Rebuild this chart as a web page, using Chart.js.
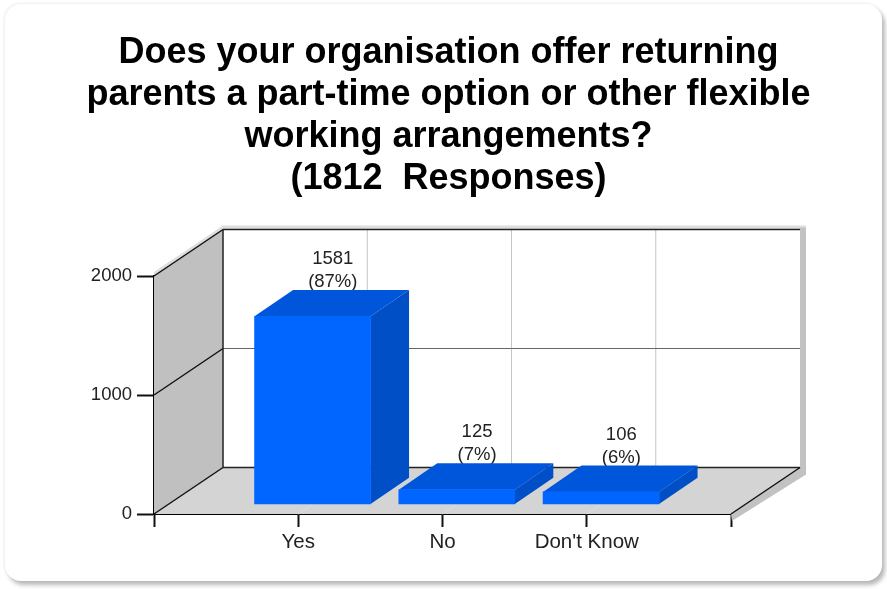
<!DOCTYPE html>
<html>
<head>
<meta charset="utf-8">
<style>
html,body{margin:0;padding:0;background:#fff;width:887px;height:589px;overflow:hidden}
#card{position:absolute;left:5px;top:4px;width:877px;height:577px;border-radius:16px;background:#fff;box-shadow:3px 4px 4px #b8b8b8,-1px -1px 3px #eee}
#c{position:absolute;left:10px;top:0;filter:blur(0.3px)}
</style>
<script src="https://cdn.jsdelivr.net/npm/chart.js@4/dist/chart.umd.min.js"></script>
</head>
<body>
<div id="card"></div>
<canvas id="c" width="877" height="589"></canvas>
<script>
const titleLines = ['Does your organisation offer returning','parents a part-time option or other flexible','working arrangements?','(1812  Responses)'];
const categories = ['', 'Yes', 'No', "Don't Know", ''];
const responses = [null, 1581, 125, 106, null];
const shares = ['', '(87%)', '(7%)', '(6%)', ''];
const yTicks = [0, 1000, 2000];

const WALL_DX = 69, WALL_DY = -46.5;
const BAR_SHIFT_X = 14.3, BAR_SHIFT_Y = -9.5;
const BAR_DX = 38.5, BAR_DY = -26.3;

function poly(ctx, pts, fill, stroke, lw){
  ctx.beginPath();
  pts.forEach((p,i)=> i ? ctx.lineTo(p[0],p[1]) : ctx.moveTo(p[0],p[1]));
  ctx.closePath();
  if(fill){ctx.fillStyle=fill;ctx.fill();}
  if(stroke){ctx.strokeStyle=stroke;ctx.lineWidth=lw||1;ctx.stroke();}
}
function line(ctx,x1,y1,x2,y2,color,lw){
  ctx.beginPath();ctx.moveTo(x1,y1);ctx.lineTo(x2,y2);ctx.strokeStyle=color;ctx.lineWidth=lw||1;ctx.stroke();
}

const box3d = {
  id:'box3d',
  beforeDatasetsDraw(chart){
    const ctx=chart.ctx, xs=chart.scales.x, ys=chart.scales.y;
    const L=xs.left, R=xs.right, T=ys.top, B=ys.bottom;
    ctx.save();
    // soft shadows round the box
    poly(ctx,[[L,T-4],[L+WALL_DX,T+WALL_DY-4],[R+WALL_DX+6,T+WALL_DY-4],[R+WALL_DX+6,T+WALL_DY+2],[L,T+2]],'#dedede');
    poly(ctx,[[R+WALL_DX,T+WALL_DY-2],[R+WALL_DX+6,T+WALL_DY-2],[R+WALL_DX+6,B+WALL_DY+7],[R+1,B+7],[R,B],[R+WALL_DX,B+WALL_DY]],'#c2c2c2');
    // back wall, left wall, floor
    poly(ctx,[[L+WALL_DX,T+WALL_DY],[R+WALL_DX,T+WALL_DY],[R+WALL_DX,B+WALL_DY],[L+WALL_DX,B+WALL_DY]],'#fff');
    poly(ctx,[[L,T],[L+WALL_DX,T+WALL_DY],[L+WALL_DX,B+WALL_DY],[L,B]],'#c0c0c0');
    poly(ctx,[[L,B],[L+WALL_DX,B+WALL_DY],[R+WALL_DX,B+WALL_DY],[R,B]],'#d4d4d4');
    // grid on back wall and floor
    categories.forEach((c,i)=>{
      const x=xs.getPixelForValue(i);
      if(i>0 && i<categories.length-1){
        line(ctx,x+WALL_DX,T+WALL_DY,x+WALL_DX,B+WALL_DY,'#c4c4c4',1);
        line(ctx,x,B,x+WALL_DX,B+WALL_DY,'#dcdcdc',1);
      }
    });
    yTicks.forEach(v=>{
      const y=ys.getPixelForValue(v);
      line(ctx,L,y,L+WALL_DX,y+WALL_DY,'#111',1.5);
      line(ctx,L+WALL_DX,y+WALL_DY,R+WALL_DX,y+WALL_DY,v===1000?'#666':'#222',v===1000?1:1.6);
    });
    line(ctx,L+WALL_DX,T+WALL_DY,L+WALL_DX,B+WALL_DY,'#222',1.5);
    line(ctx,R,B,R+WALL_DX,B+WALL_DY,'#111',1.5);
    // value labels sit behind the bars
    const meta=chart.getDatasetMeta(0);
    ctx.fillStyle='#222';
    ctx.textAlign='center';ctx.textBaseline='middle';
    ctx.font='18.5px "Liberation Sans", Arial, sans-serif';
    meta.data.forEach((el,i)=>{
      if(responses[i]==null) return;
      const p=el.getProps(['x','y']);
      const cx=p.x+BAR_SHIFT_X+BAR_DX/2+1, top=p.y+BAR_SHIFT_Y+BAR_DY;
      ctx.fillText(String(responses[i]),cx,top-31);
      ctx.fillText(shares[i],cx,top-8);
    });
    // depth faces of each bar
    meta.data.forEach((el,i)=>{
      if(responses[i]==null) return;
      const p=el.getProps(['x','y','base','width']);
      const l=p.x-p.width/2+BAR_SHIFT_X, r=p.x+p.width/2+BAR_SHIFT_X;
      const t=p.y+BAR_SHIFT_Y, b=p.base+BAR_SHIFT_Y;
      poly(ctx,[[l,t],[l+BAR_DX,t+BAR_DY],[r+BAR_DX,t+BAR_DY],[r,t]],'#0056da');
      poly(ctx,[[r,t],[r+BAR_DX,t+BAR_DY],[r+BAR_DX,b+BAR_DY],[r,b]],'#004fc6');
    });
    ctx.restore();
    // the library's bars are drawn on the front face, moved into the box
    ctx.save();
    ctx.translate(BAR_SHIFT_X,BAR_SHIFT_Y);
  },
  afterDatasetsDraw(chart){ chart.ctx.restore(); }
};

new Chart(document.getElementById('c'),{
  type:'bar',
  data:{labels:categories,datasets:[{data:responses,backgroundColor:'#0066ff',borderWidth:0,barThickness:116,clip:false}]},
  plugins:[box3d],
  options:{
    responsive:false,animation:false,
    layout:{padding:0},
    plugins:{
      legend:{display:false},tooltip:{enabled:false},
      title:{display:true,text:titleLines,color:'#000',
        font:{family:'"Liberation Sans", Arial, sans-serif',size:36,weight:'bold',lineHeight:42/36},
        padding:{top:32,bottom:76}}
    },
    scales:{
      x:{offset:false,
        afterFit(s){s.height=75;},
        grid:{display:true,offset:false,drawOnChartArea:false,drawTicks:true,tickLength:13,tickColor:'#111',tickWidth:2},
        border:{display:true,color:'#000',width:2},
        ticks:{autoSkip:false,maxRotation:0,padding:3,color:'#222',font:{family:'"Liberation Sans", Arial, sans-serif',size:20.5}}},
      y:{min:0,max:2000,
        afterFit(s){s.width=144;},
        afterBuildTicks(s){s.ticks=yTicks.map(v=>({value:v}));},
        grid:{display:true,drawOnChartArea:false,drawTicks:true,tickLength:17,tickColor:'#111',tickWidth:2},
        border:{display:true,color:'#000',width:2},
        ticks:{padding:5,color:'#222',callback:v=>String(v),font:{family:'"Liberation Sans", Arial, sans-serif',size:18.5}}},
      spare:{position:'right',display:true,
        afterFit(s){s.width=156;},
        grid:{display:false},border:{display:false},ticks:{display:false}}
    }
  }
});
</script>
</body>
</html>
